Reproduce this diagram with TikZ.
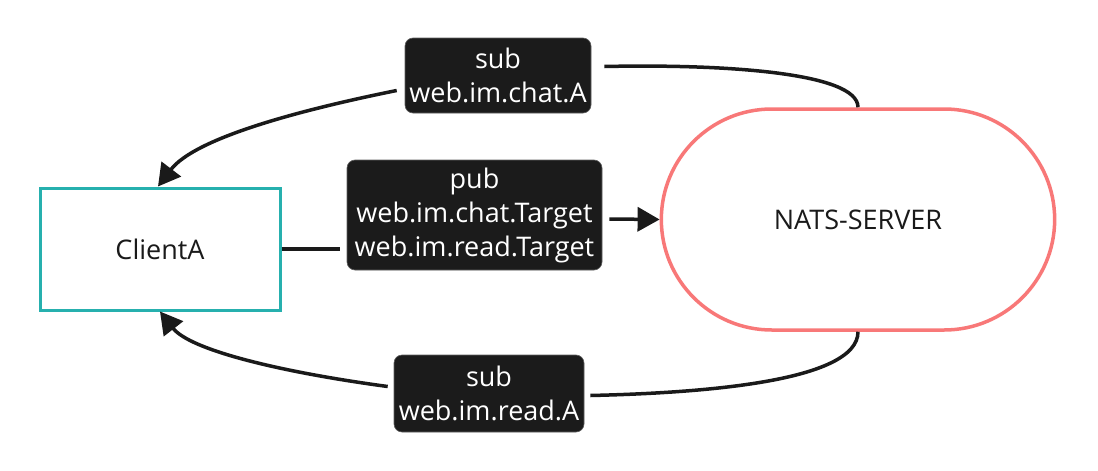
\documentclass[tikz,border=0pt]{standalone}
\usepackage{fontspec}
\setmainfont{Open Sans}
\usetikzlibrary{arrows.meta,shapes.misc}
\definecolor{tealc}{HTML}{26B0AE}
\definecolor{salmonc}{HTML}{F87878}
\definecolor{lblc}{HTML}{1B1B1B}
\definecolor{linec}{HTML}{1A1A1A}
\tikzset{
  txt/.style={font=\fontsize{27}{34}\selectfont, text=linec},
  lbl/.style={fill=lblc, draw=lblc!70!white, line width=0.6pt, rounded corners=8pt, text=white, align=center,
    inner sep=2pt, font=\fontsize{27}{34}\selectfont},
  conn/.style={draw=linec, line width=3.5pt},
  arr/.style={conn, -{Triangle[length=22pt,width=24pt]}}
}
\begin{document}
\begin{tikzpicture}[x=1pt,y=-1pt]
\useasboundingbox[fill=white] (0,0) rectangle (1098,471);
\node[txt, draw=tealc, line width=3pt, minimum width=240pt, minimum height=122pt] (client) at (160,249) {ClientA};
\node[txt, rounded rectangle, draw=salmonc, line width=3.5pt, minimum width=400pt, minimum height=221pt] (nats) at (858,219.5) {NATS-SERVER};
\node[lbl, minimum width=186pt, minimum height=75pt] (sub1) at (498,75.5) {sub\\web.im.chat.A};
\node[lbl, minimum width=255pt, minimum height=110pt] (pub) at (474.5,215) {pub\\web.im.chat.Target\\web.im.read.Target};
\node[lbl, minimum width=190pt, minimum height=77pt] (sub2) at (489,393.5) {sub\\web.im.read.A};

\draw[conn] (nats.north) .. controls (858,72) and (720,64) .. ([shift={(13,-9)}]sub1.east);
\draw[arr] ([shift={(-8,15)}]sub1.west) .. controls (300,110) and (195,138) .. ([xshift=-2pt]client.north);
\draw[conn] (client.east) -- ([shift={(-7,34)}]pub.west);
\draw[arr] ([shift={(7,4)}]pub.east) -- (nats.west);
\draw[conn] (nats.south) .. controls (858,382) and (700,393) .. ([shift={(6,2)}]sub2.east);
\draw[arr] ([shift={(-6,-7)}]sub2.west) .. controls (280,372) and (190,350) .. (client.south);
\end{tikzpicture}
\end{document}
